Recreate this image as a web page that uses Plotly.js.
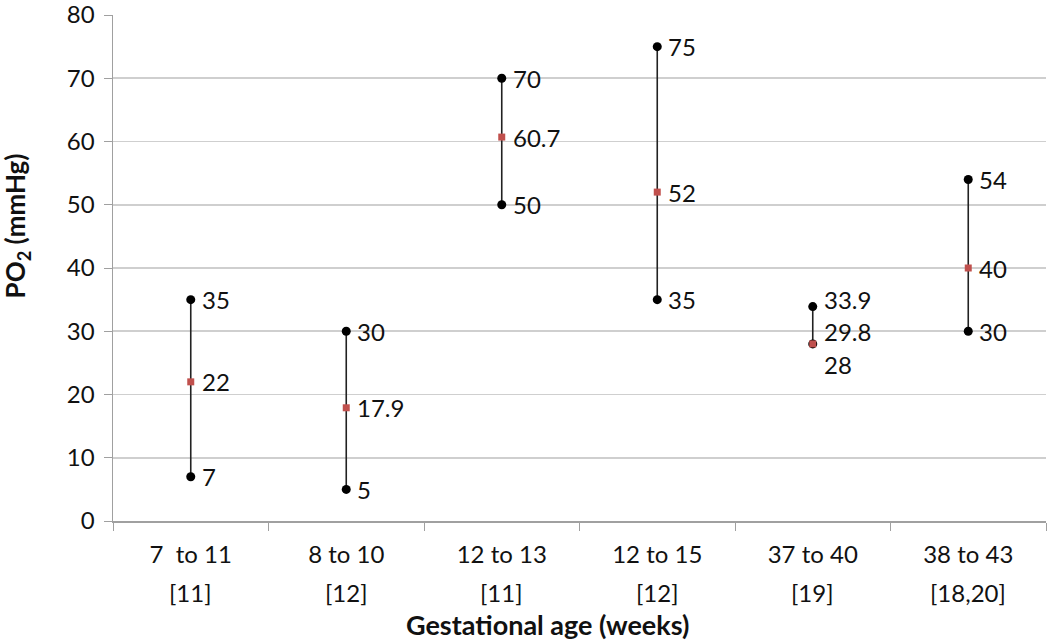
<!DOCTYPE html>
<html>
<head>
<meta charset="utf-8">
<script src="https://cdn.plot.ly/plotly-3.0.1.min.js"></script>
<style>
  html, body { margin: 0; padding: 0; background: #fff; }
  #chart { width: 1050px; height: 641px; }
</style>
</head>
<body>
<div id="chart"></div>
<script>
// gestational age groups and the reference numbers under them
const ageGroups = ['7  to 11', '8 to 10', '12 to 13', '12 to 15', '37 to 40', '38 to 43'];
const refs = ['[11]', '[12]', '[11]', '[12]', '[19]', '[18,20]'];

// PO2 range (mmHg) and the mean in the middle
const highVals = [35, 30, 70, 75, 33.9, 54];
const lowVals = [7, 5, 50, 35, 28, 30];
const midVals = [22, 17.9, 60.7, 52, 28, 40];
const midLabels = ['22', '17.9', '60.7', '52', '29.8', '40'];
const lowLabels = ['7', '5', '50', '35', '28', '30'];
const highLabels = ['35', '30', '70', '75', '33.9', '54'];
// the 37 to 40 labels were nudged by hand in the original
const highShift = [0, 0, 0, 0, 7, 0];
const midShift = [0, 0, 0, 0, 12, 0];
const lowShift = [0, 0, 0, 0, -21, 0];

const FONT = 'Lato, "Open Sans", sans-serif';

// vertical range lines, one segment per group
const segX = [], segY = [];
ageGroups.forEach((g, i) => {
    segX.push(g, g, null);
    segY.push(lowVals[i], highVals[i], null);
});

const traces = [
    {
        x: segX, y: segY, type: 'scatter', mode: 'lines',
        line: { color: '#222', width: 1.6 }, hoverinfo: 'skip'
    },
    {
        x: ageGroups, y: highVals, type: 'scatter', mode: 'markers',
        marker: { color: '#000', size: 9 }
    },
    {
        x: ageGroups, y: lowVals, type: 'scatter', mode: 'markers',
        marker: { color: '#000', size: 9 }
    },
    {
        x: ageGroups, y: midVals, type: 'scatter', mode: 'markers',
        marker: { color: '#c0504d', size: 7, symbol: 'square' }
    }
];

const annotations = [];
const addLabels = (vals, labels, shifts) => {
    ageGroups.forEach((g, i) => {
        annotations.push({
            x: g, y: vals[i], xref: 'x', yref: 'y',
            text: labels[i], showarrow: false,
            xanchor: 'left', xshift: 9, yshift: shifts[i],
            font: { family: FONT, size: 24, color: '#111' }
        });
    });
};
addLabels(highVals, highLabels, highShift);
addLabels(lowVals, lowLabels, lowShift);
addLabels(midVals, midLabels, midShift);

// second line of the category labels
ageGroups.forEach((g, i) => {
    annotations.push({
        x: g, y: 0, xref: 'x', yref: 'paper', yanchor: 'middle',
        yshift: -71, text: refs[i], showarrow: false,
        font: { family: FONT, size: 24, color: '#111' }
    });
});

// axis titles sit off-centre in the original, so place them by hand
annotations.push({
    x: 0.466, y: 0, xref: 'paper', yref: 'paper',
    yanchor: 'middle', yshift: -103, showarrow: false,
    text: '<b>Gestational age (weeks)</b>',
    font: { family: FONT, size: 27, color: '#111' }
});
annotations.push({
    x: -0.103, y: 0.584, xref: 'paper', yref: 'paper',
    xanchor: 'center', yanchor: 'middle', textangle: -90, showarrow: false,
    text: '<b>PO<sub>2</sub> (mmHg)</b>',
    font: { family: FONT, size: 26, color: '#111' }
});

const layout = {
    width: 1050, height: 641,
    margin: { l: 113, r: 4, t: 15, b: 120 },
    paper_bgcolor: '#fff', plot_bgcolor: '#fff',
    showlegend: false,
    font: { family: FONT, color: '#111' },
    xaxis: {
        type: 'category',
        tickson: 'boundaries',
        ticks: 'outside', ticklen: 8, tickcolor: '#a0a0a0',
        ticklabelstandoff: 12,
        showgrid: false,
        showline: true, linecolor: '#a0a0a0', linewidth: 1.5,
        tickfont: { family: FONT, size: 24, color: '#111' },
        range: [-0.5, 5.5],
        fixedrange: true
    },
    yaxis: {
        range: [0, 80.001], dtick: 10, tick0: 0,
        ticks: 'outside', ticklen: 8, tickcolor: '#a0a0a0',
        ticklabelstandoff: 4,
        ticklabeloverflow: 'allow',
        showgrid: true, gridcolor: '#cfcfcf', gridwidth: 1.8,
        showline: true, linecolor: '#a0a0a0', linewidth: 1.5,
        zeroline: false,
        tickfont: { family: FONT, size: 24, color: '#111' },
        fixedrange: true
    },
    annotations: annotations
};

Plotly.newPlot('chart', traces, layout, { displayModeBar: false, staticPlot: true });
</script>
</body>
</html>
